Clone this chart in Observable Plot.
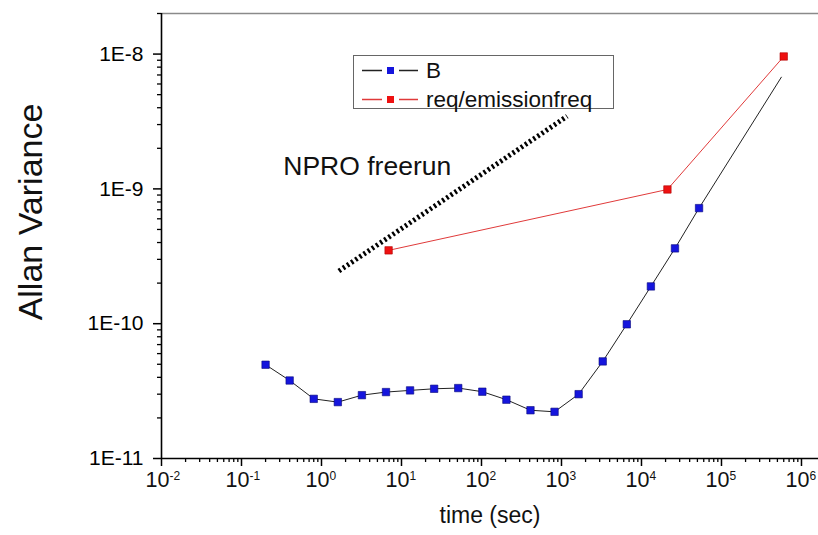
<!DOCTYPE html>
<html>
<head>
<meta charset="utf-8">
<script src="https://cdn.jsdelivr.net/npm/d3@7"></script>
<script src="https://cdn.jsdelivr.net/npm/@observablehq/plot@0.6"></script>
<style>
  html, body { margin: 0; padding: 0; background: white; }
  #wrap { position: relative; width: 818px; height: 535px; font-family: 'Liberation Sans', Arial, sans-serif; }
  #legend { position: absolute; left: 353px; top: 55px; width: 261px; height: 54px; border: 1px solid #666; background: white; box-sizing: border-box; }
  .row { position: absolute; left: 0; height: 29px; display: flex; align-items: center; font-size: 22.5px; color: #111; }
  .row svg { display: block; }
</style>
</head>
<body>
<div id="wrap"></div>
<script>
// ---- data ----
const bTime = [0.2, 0.4, 0.8, 1.6, 3.2, 6.4, 12.8, 25.6, 51.2, 102.4, 204.8, 409.6, 819.2, 1638.4, 3276.8, 6553.6, 13107, 26214, 52429];
const bVal  = [4.96e-11, 3.79e-11, 2.77e-11, 2.62e-11, 2.95e-11, 3.11e-11, 3.20e-11, 3.29e-11, 3.33e-11, 3.13e-11, 2.73e-11, 2.28e-11, 2.22e-11, 3.0e-11, 5.25e-11, 9.9e-11, 1.89e-10, 3.62e-10, 7.2e-10];
const bTailTime = [5.6e5];          // line continues without marker
const bTailVal  = [6.74e-9];
const rTime = [6.9, 21100, 6.0e5];
const rVal  = [3.5e-10, 9.9e-10, 9.6e-9];
const nproTime = [1.65, 1178];
const nproVal  = [2.46e-10, 3.46e-9];
const noteText = ["NPRO freerun"];
const noteTime = [3.73];
const noteVal  = [1.46e-9];
const legendLabels = ["B", "req/emissionfreq"];
const legendLine   = ["#222222", "#e03a3a"];
const legendMarker = ["#1515dd", "#ee1111"];
const xTicks = [1e-2, 1e-1, 1e0, 1e1, 1e2, 1e3, 1e4, 1e5, 1e6];
const yTicks = [1e-11, 1e-10, 1e-9, 1e-8];
const xLabel = "time (sec)";
const yLabel = "Allan Variance";

// ---- build tables ----
const bData = bTime.map((t, i) => ({t, v: bVal[i]}));
const bLine = bData.concat(bTailTime.map((t, i) => ({t, v: bTailVal[i]})));
const rData = rTime.map((t, i) => ({t, v: rVal[i]}));
const npro = nproTime.map((t, i) => ({t, v: nproVal[i]}));
const notes = noteText.map((s, i) => ({s, t: noteTime[i], v: noteVal[i]}));
const minors = (lo, hi) => { const out = []; for (let e = lo; e < hi; e++) for (let k = 2; k <= 9; k++) out.push(k * Math.pow(10, e)); return out; };
const minorX = minors(-2, 7).filter(d => d <= 1.63e6);
const minorY = minors(-11, -8).concat([2e-8]);

const chart = Plot.plot({
  width: 818,
  height: 535,
  marginLeft: 161,
  marginRight: 0,
  marginTop: 13,
  marginBottom: 77,
  x: {type: "log", domain: [1e-2, 1.632e6]},
  y: {type: "log", domain: [1e-11, 2e-8]},
  style: {fontFamily: "'Liberation Sans', Arial, sans-serif", background: "white", color: "black", overflow: "visible"},
  marks: [
    Plot.ruleY([2e-8], {stroke: "#8a8a8a", strokeWidth: 1.5}),
    Plot.axisY(minorY, {tickSize: 4, tickFormat: () => "", label: null, strokeWidth: 1.3}),
    Plot.axisY(yTicks, {tickSize: 8, tickPadding: 10, strokeWidth: 1.5, fontSize: 21, label: null,
      tickFormat: d => "1E" + Math.round(Math.log10(d))}),
    Plot.axisX(minorX, {tickSize: 4, tickFormat: () => "", label: null, strokeWidth: 1.3}),
    Plot.axisX(xTicks, {tickSize: 8, tickFormat: () => "", label: null, strokeWidth: 1.5}),
    Plot.ruleX([1e-2], {stroke: "black", strokeWidth: 1.6}),
    Plot.ruleY([1e-11], {stroke: "black", strokeWidth: 1.6}),
    Plot.text(xTicks, {x: d => d, frameAnchor: "bottom", dy: 28, dx: -4, text: () => "10", fontSize: 21.5, fill: "#111"}),
    Plot.text(xTicks, {x: d => d, frameAnchor: "bottom", dy: 21, dx: 8, textAnchor: "start",
      text: d => String(Math.round(Math.log10(d))), fontSize: 12, fill: "#111"}),
    Plot.text([xLabel], {frameAnchor: "bottom", dy: 64, fontSize: 23, fill: "#111"}),
    Plot.text([yLabel], {frameAnchor: "left", textAnchor: "middle", dx: -130, dy: -24, rotate: -90, fontSize: 34, fill: "#111"}),
    Plot.line(npro, {x: "t", y: "v", stroke: "black", strokeWidth: 5, strokeDasharray: "2.3,2.7", strokeLinecap: "butt"}),
    Plot.line(bLine, {x: "t", y: "v", stroke: "#222", strokeWidth: 1}),
    Plot.line(rData, {x: "t", y: "v", stroke: "#e03a3a", strokeWidth: 1}),
    Plot.dot(bData, {x: "t", y: "v", symbol: "square", r: 4.2, fill: "#1515dd", stroke: "#0a0a7a", strokeWidth: 0.6}),
    Plot.dot(rData, {x: "t", y: "v", symbol: "square", r: 4.2, fill: "#ee1111", stroke: "#b00000", strokeWidth: 0.6}),
    Plot.text(notes, {x: "t", y: "v", text: "s", fontSize: 26.5, fill: "#111"})
  ]
});

const wrap = document.getElementById("wrap");
wrap.appendChild(chart);

// legend overlay
const legend = document.createElement("div");
legend.id = "legend";
legendLabels.forEach((lab, i) => {
  const row = document.createElement("div");
  row.className = "row";
  row.style.top = (i * 29) + "px";
  const ns = "http://www.w3.org/2000/svg";
  const sw = document.createElementNS(ns, "svg");
  sw.setAttribute("width", 72); sw.setAttribute("height", 29);
  const ln = document.createElementNS(ns, "line");
  ln.setAttribute("x1", 8); ln.setAttribute("x2", 64); ln.setAttribute("y1", 14.5); ln.setAttribute("y2", 14.5);
  ln.setAttribute("stroke", legendLine[i]); ln.setAttribute("stroke-width", 1.3);
  const gap = document.createElementNS(ns, "rect");
  gap.setAttribute("x", 28); gap.setAttribute("y", 10); gap.setAttribute("width", 17); gap.setAttribute("height", 9); gap.setAttribute("fill", "white");
  const mk = document.createElementNS(ns, "rect");
  mk.setAttribute("x", 33); mk.setAttribute("y", 11); mk.setAttribute("width", 7); mk.setAttribute("height", 7);
  mk.setAttribute("fill", legendMarker[i]);
  sw.appendChild(ln); sw.appendChild(gap); sw.appendChild(mk);
  const tx = document.createElement("span");
  tx.textContent = lab;
  row.appendChild(sw); row.appendChild(tx);
  legend.appendChild(row);
});
wrap.appendChild(legend);
</script>
</body>
</html>
